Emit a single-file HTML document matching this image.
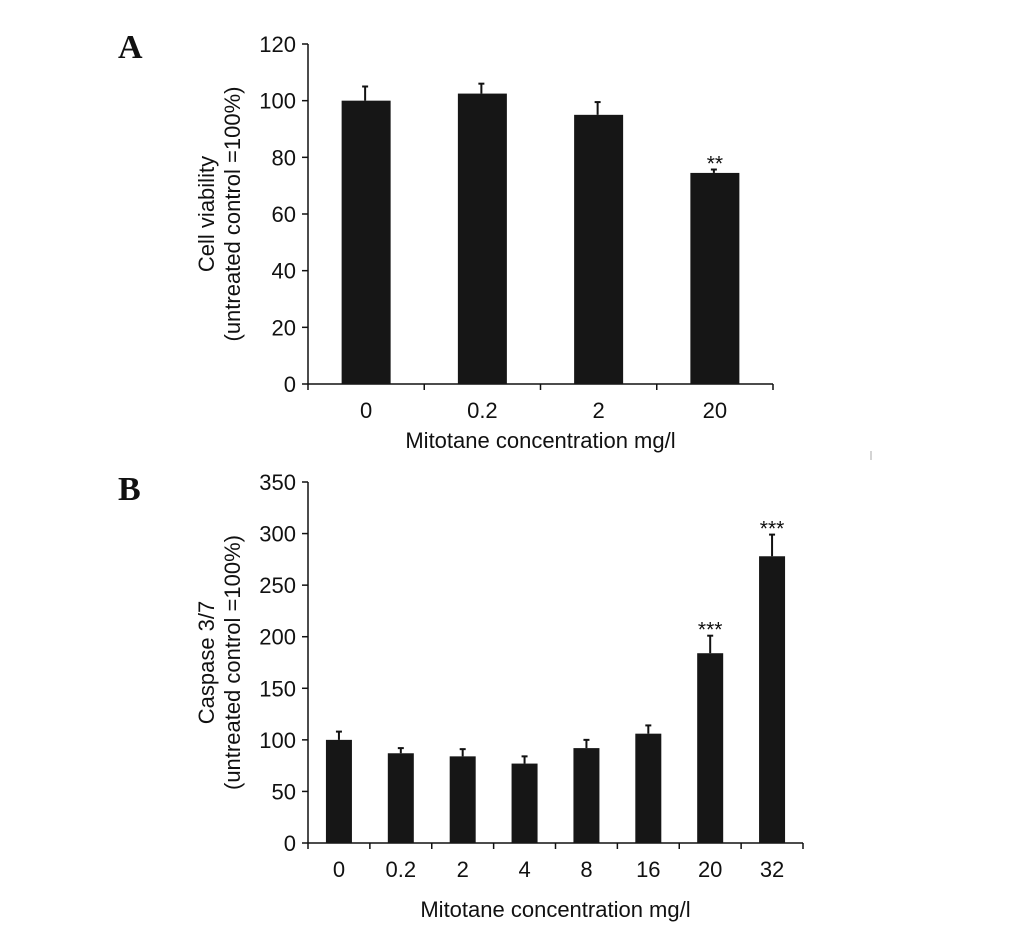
<!DOCTYPE html>
<html><head><meta charset="utf-8"><style>
body{margin:0;background:#fff}
svg text{font-family:"Liberation Sans",Arial,sans-serif;fill:#111}
</style></head><body>
<svg id="c" width="1033" height="928" xmlns="http://www.w3.org/2000/svg">
<text x="118" y="58" style="font-family:'Liberation Serif',serif;font-weight:bold;font-size:34px">A</text>
<text x="118" y="500" style="font-family:'Liberation Serif',serif;font-weight:bold;font-size:34px">B</text>
<g id="ga"></g>
<g id="gb"></g>
<line x1="871" y1="451" x2="871" y2="460" stroke="#aaa" stroke-width="1"/>
</svg>
<script>
const catsA=["0","0.2","2","20"];
const valsA=[100,102.5,95,74.5];
const errA=[5,3.5,4.5,1.2];
const sigA=["","","","**"];
const ticksA=[0,20,40,60,80,100,120];
const catsB=["0","0.2","2","4","8","16","20","32"];
const valsB=[100,87,84,77,92,106,184,278];
const errB=[8,5,7,7,8,8,17,21];
const sigB=["","","","","","","***","***"];
const ticksB=[0,50,100,150,200,250,300,350];
const NS="http://www.w3.org/2000/svg";
function mk(p,t,a){const e=document.createElementNS(NS,t);for(const k in a)e.setAttribute(k,a[k]);p.appendChild(e);return e;}
function chart(g,cats,vals,errs,sig,ticks,o){
 const ymax=ticks[ticks.length-1];
 const y=v=>o.y0-(v/ymax)*(o.y0-o.y1);
 const cw=(o.x1-o.x0)/cats.length;
 const x=i=>o.x0+cw*(i+0.5);
 let l=mk(g,"line",{x1:o.x0,y1:o.y1,x2:o.x0,y2:o.y0,stroke:"#111","stroke-width":1.5});
 
 l=mk(g,"line",{x1:o.x0,y1:o.y0,x2:o.x1,y2:o.y0,stroke:"#111","stroke-width":1.5});
 
 ticks.forEach(t=>{
  mk(g,"line",{x1:o.x0-6,y1:y(t),x2:o.x0,y2:y(t),stroke:"#111","stroke-width":1.5});
  const tx=mk(g,"text",{x:o.x0-12,y:y(t)+8,"text-anchor":"end","font-size":22});tx.textContent=t;
  
 });
 for(let i=0;i<=cats.length;i++)mk(g,"line",{x1:o.x0+cw*i,y1:o.y0,x2:o.x0+cw*i,y2:o.y0+6,stroke:"#111","stroke-width":1.5});
 cats.forEach((c,i)=>{
  const tx=mk(g,"text",{x:x(i),y:o.y0+o.xty,"text-anchor":"middle","font-size":22});tx.textContent=c;
  
  const top=y(vals[i]+errs[i]);
  mk(g,"line",{x1:x(i)+o.ex,y1:y(vals[i]),x2:x(i)+o.ex,y2:top,stroke:"#111","stroke-width":2});
  mk(g,"line",{x1:x(i)+o.ex-3,y1:top,x2:x(i)+o.ex+3,y2:top,stroke:"#111","stroke-width":2});
  const r=mk(g,"rect",{x:x(i)-o.bw/2,y:y(vals[i]),width:o.bw,height:o.y0-y(vals[i]),fill:"#161616"});
  
  if(sig[i]){const s=mk(g,"text",{x:x(i),y:top+1,"text-anchor":"middle","font-size":21});s.textContent=sig[i];
   }
 });
 let t=mk(g,"text",{x:(o.x0+o.x1)/2,y:o.y0+o.xly,"text-anchor":"middle","font-size":22});t.textContent="Mitotane concentration mg/l";
 
 const cy=(o.y0+o.y1)/2;
 t=mk(g,"text",{x:o.ylx,y:cy,"text-anchor":"middle","font-size":22,transform:`rotate(-90 ${o.ylx} ${cy})`});t.textContent=o.l1;
 
 t=mk(g,"text",{x:o.ylx+26,y:cy,"text-anchor":"middle","font-size":22,transform:`rotate(-90 ${o.ylx+26} ${cy})`});t.textContent="(untreated control =100%)";
 
}
chart(document.getElementById("ga"),catsA,valsA,errA,sigA,ticksA,{x0:308,x1:773,y0:384,y1:44,bw:49,ex:-1,xty:34,xly:64,ylx:214,l1:"Cell viability"});
chart(document.getElementById("gb"),catsB,valsB,errB,sigB,ticksB,{x0:308,x1:803,y0:843,y1:482,bw:26,ex:0,xty:34,xly:74,ylx:214,l1:"Caspase 3/7"});
</script>
</body></html>
